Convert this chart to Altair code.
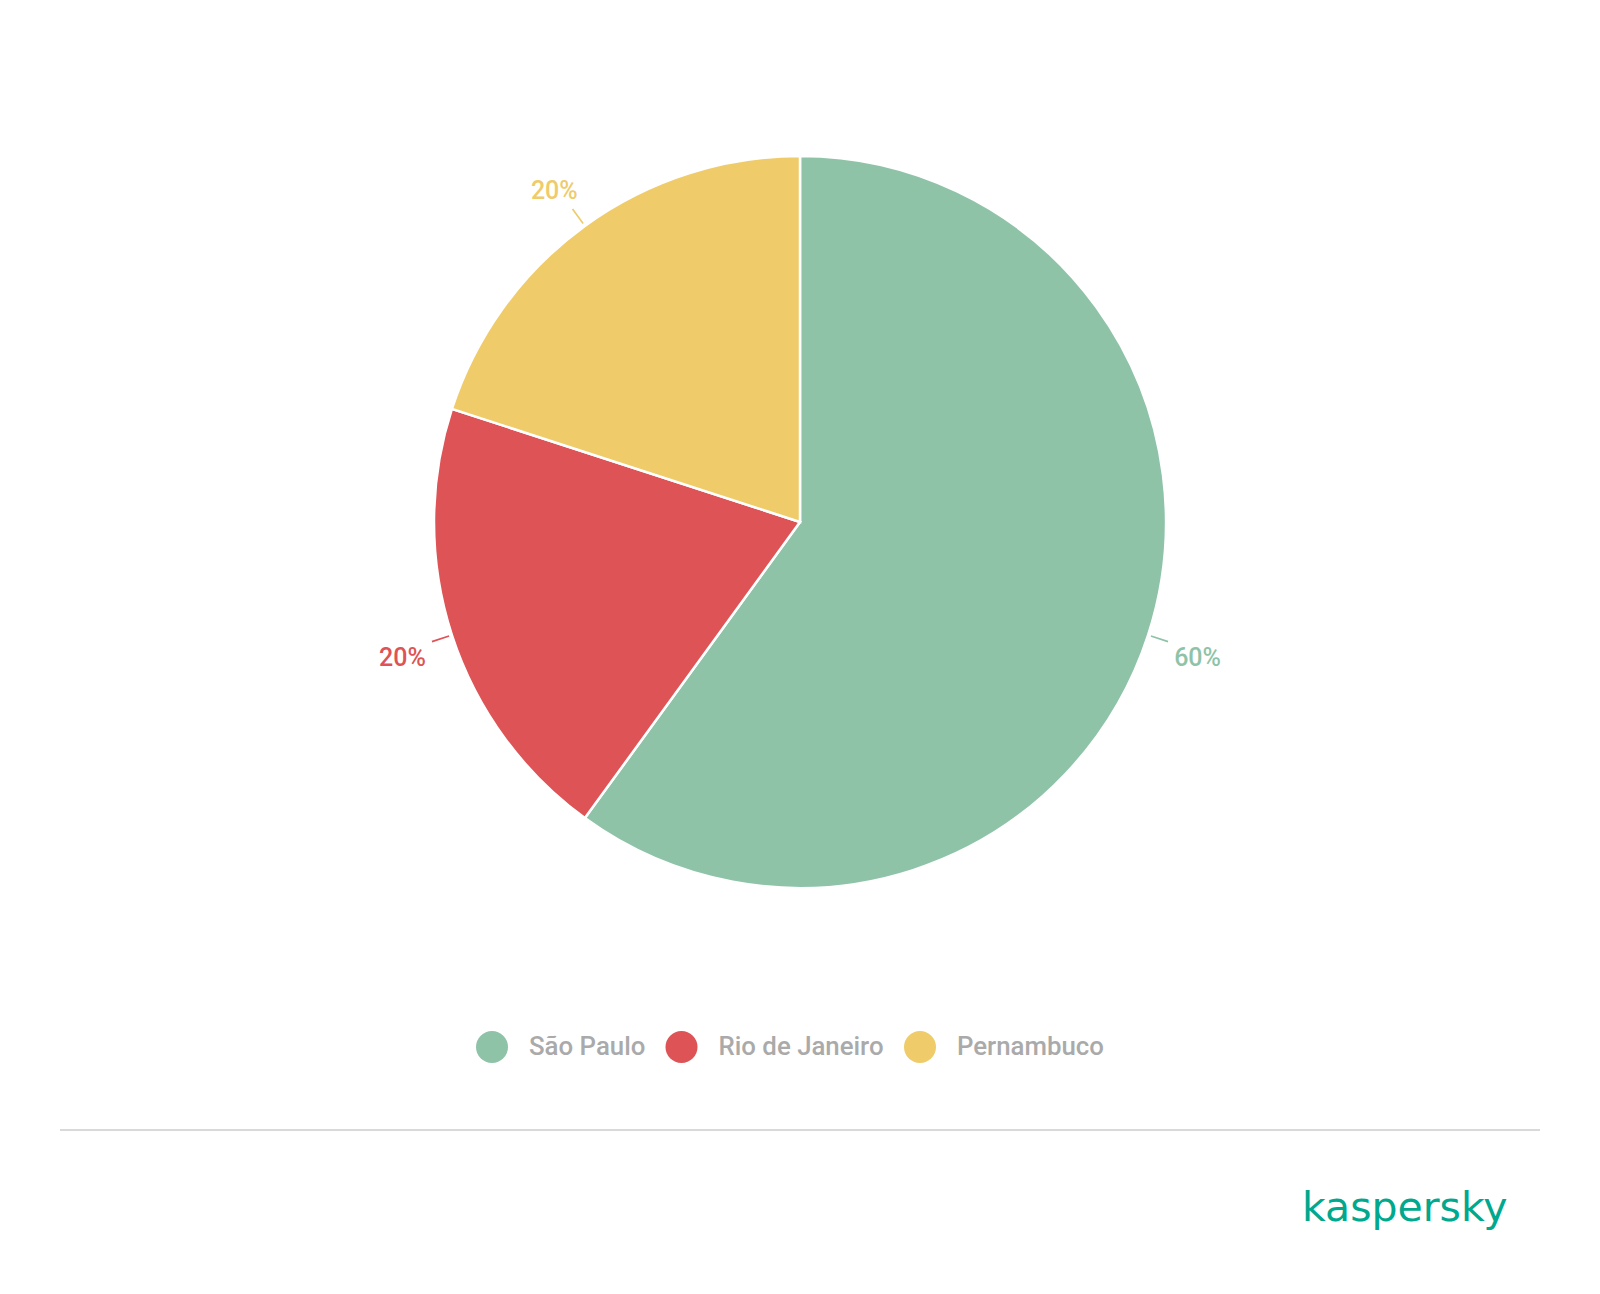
import altair as alt
import pandas as pd

categories = ["São Paulo", "Rio de Janeiro", "Pernambuco"]
values = [60, 20, 20]
labels = ["60%", "20%", "20%"]
colors = ["#8fc3a8", "#dd5356", "#efcb6a"]
logo_text = ["kaspersky"]

df = pd.DataFrame({
    "region": categories,
    "value": values,
    "label": labels,
    "idx": list(range(len(categories))),
})

CX, CY = 792, 514
R = 366

color = alt.Color(
    "region:N",
    scale=alt.Scale(domain=categories, range=colors),
    legend=alt.Legend(
        title=None,
        orient="none",
        direction="horizontal",
        legendX=468,
        legendY=1023,
        symbolType="circle",
        symbolSize=1024,
        symbolStrokeWidth=0,
        symbolOpacity=1,
        labelFont="Roboto",
        labelFontSize=25.8,
        labelFontWeight=500,
        labelColor="#aaaaaa",
        labelOffset=21,
        columnPadding=19.5,
        padding=0,
        labelLimit=400,
    ),
)

base = alt.Chart(df).encode(
    theta=alt.Theta("value:Q", stack=True),
    order=alt.Order("idx:Q"),
    color=color,
)

pie = base.mark_arc(radius=R, stroke="white", strokeWidth=2.5).encode(
    x=alt.value(CX), y=alt.value(CY)
)

text = base.mark_text(
    radius=418, dy=7, font="Roboto", fontSize=25, fontWeight=500,
    align="center", baseline="middle"
).encode(
    x=alt.value(CX), y=alt.value(CY), text="label:N"
)

leaders = alt.Chart(df).transform_joinaggregate(
    total="sum(value)"
).transform_window(
    cum="sum(value)", sort=[alt.SortField("idx")]
).transform_calculate(
    mid="(datum.cum - datum.value/2) / datum.total * 2 * PI",
).transform_calculate(
    t0="datum.mid - 0.0022", t1="datum.mid + 0.0022"
).mark_arc(radius=369, radius2=387).encode(
    x=alt.value(CX), y=alt.value(CY),
    theta=alt.Theta("t0:Q", scale=None, stack=None),
    theta2="t1:Q",
    color=alt.Color("region:N", scale=alt.Scale(domain=categories, range=colors), legend=None),
)

divider = alt.Chart(pd.DataFrame({"d": [0]})).mark_rule(
    color="#d9d9d9", strokeWidth=2
).encode(x=alt.value(52), x2=alt.value(1532), y=alt.value(1122))

logo = alt.Chart(pd.DataFrame({"t": logo_text})).mark_text(
    font="DejaVu Sans", fontSize=41, fontWeight=400, color="#00a88e",
    align="left", baseline="alphabetic"
).encode(x=alt.value(1294), y=alt.value(1213), text="t:N")

chart = alt.layer(pie, leaders, text, divider, logo).properties(
    width=1584, height=1278, padding=0, background="white"
).configure_view(stroke=None)

chart.save("out.html", embed_options={"renderer": "svg", "actions": False})
